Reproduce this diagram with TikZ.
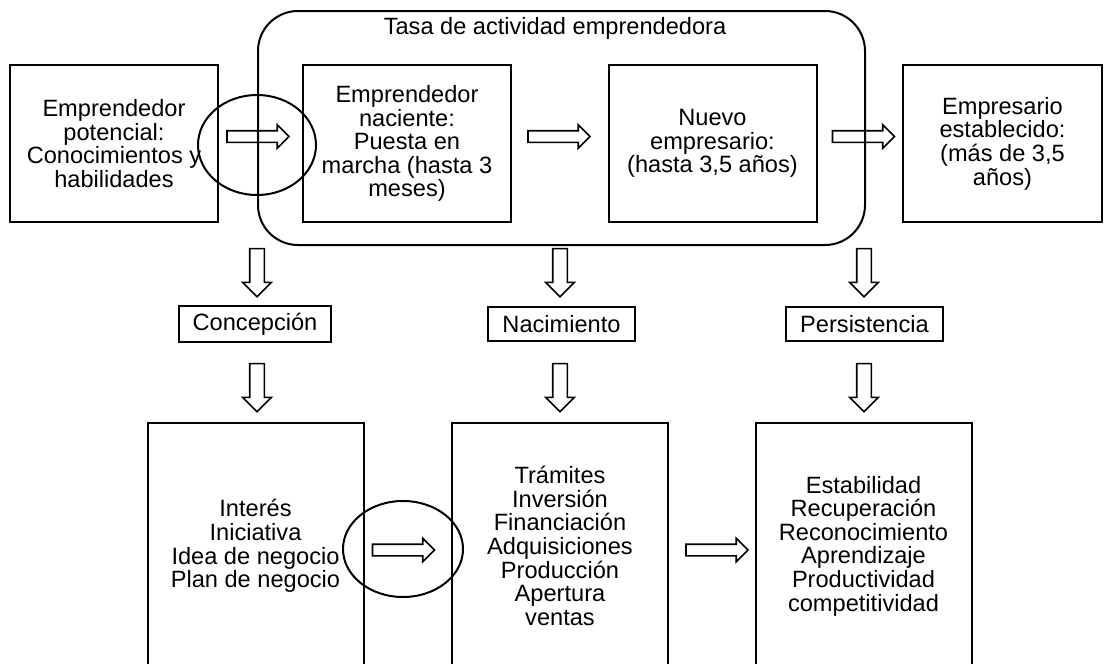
\documentclass[tikz,border=0pt]{standalone}
\usepackage{fontspec}
\setmainfont{Liberation Sans}
\usetikzlibrary{positioning}
\usetikzlibrary{shapes.arrows}
\newcommand{\txt}{\fontsize{11.8}{11.8}\selectfont}
\tikzstyle{bx}=[draw,rectangle,line width=1pt,outer sep=0pt,align=center,minimum width=104pt,minimum height=78.5pt,font=\txt]
\tikzstyle{bb}=[bx,minimum width=108pt,minimum height=123pt]
\tikzstyle{lb}=[draw,rectangle,line width=1pt,outer sep=0pt,inner xsep=7pt,minimum height=17pt,font=\txt]
\tikzstyle{ha}=[draw,single arrow,line width=0.8pt,outer sep=0pt,inner sep=2.5pt,single arrow head extend=3pt,minimum height=31pt]
\tikzstyle{va}=[ha,shape border rotate=270,inner sep=3.25pt,single arrow head extend=3.5pt,minimum height=24pt]

\begin{document}
\begin{tikzpicture}[x=0.5pt,y=-0.5pt]
      \path[use as bounding box,clip] (0,0) rectangle (1105,664);
      \draw [line width=1pt,rounded corners=20pt] (258,11) rectangle (865,245);
      \node [font=\txt] (tasa) at (555,28) {Tasa de actividad emprendedora};
      \node [bx] (pot) at (114,143.5) {Emprendedor\\potencial:\\Conocimientos y\\habilidades};
      \node [bx] (nac) at (407,143.5) {Emprendedor\\naciente:\\Puesta en\\marcha (hasta 3\\meses)};
      \node [bx] (nue) at (712.5,143.5) {Nuevo\\empresario:\\(hasta 3,5 años)};
      \node [bx,minimum width=99.5pt] (est) at (1002.5,143.5) {Empresario\\establecido:\\(más de 3,5\\años)};
      \node [ha,right=4.5pt of pot,yshift=3.5pt] (a1) {};
      \node [ha,right=8.5pt of nac,yshift=3.5pt] (a2) {};
      \node [ha,right=8pt of nue,yshift=3.5pt] (a3) {};
      \draw [line width=1pt] (257,145) ellipse [x radius=29.5pt, y radius=25pt];
      \node [va] (d1) at (257,269) {};
      \node [va] (d2) at (560,269) {};
      \node [va] (d3) at (864,269) {};
      \node [lb] (con) at (255,324) {Concepción};
      \node [lb] (nam) at (561.5,324) {Nacimiento};
      \node [lb] (per) at (864.5,324) {Persistencia};
      \node [va] (e1) at (257,384) {};
      \node [va] (e2) at (560,384) {};
      \node [va] (e3) at (864,384) {};
      \node [bb] (fcon) at (255.5,546) {Interés\\Iniciativa\\Idea de negocio\\Plan de negocio};
      \node [bb] (fnam) at (560,546) {Trámites\\Inversión\\Financiación\\Adquisiciones\\Producción\\Apertura\\ventas};
      \node [bb] (fper) at (863.5,546) {Estabilidad\\Recuperación\\Reconocimiento\\Aprendizaje\\Productividad\\competitividad};
      \node [ha,right=4.5pt of fcon,yshift=-2pt] (b1) {};
      \node [ha,right=9pt of fnam,yshift=-2pt] (b2) {};
      \draw [line width=1pt] (403,549) ellipse [x radius=30pt, y radius=24pt];
\end{tikzpicture}
\end{document}
